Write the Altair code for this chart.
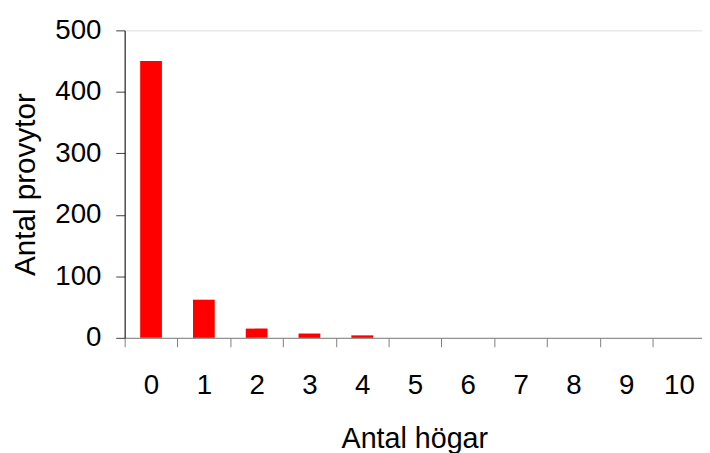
import altair as alt
import pandas as pd

hogar = [0, 1, 2, 3, 4, 5, 6, 7, 8, 9, 10]
provytor = [450, 62, 15, 7, 4, 0, 0, 0, 0, 0, 0]
y_ticks = [0, 100, 200, 300, 400, 500]
x_tick_bounds = [-0.5, 0.5, 1.5, 2.5, 3.5, 4.5, 5.5, 6.5, 7.5, 8.5, 9.5]

df = pd.DataFrame({"hogar": hogar, "provytor": provytor})

FONT = "Liberation Sans"

chart = alt.Chart(df).mark_bar(size=22, color="#ff0000").encode(
    x=alt.X(
        "hogar:Q",
        scale=alt.Scale(domain=[-0.5, 10.436], nice=False, zero=False, padding=0),
        axis=alt.Axis(
            title="Antal högar",
            values=x_tick_bounds,
            labelExpr="'' + (datum.value + 0.5)",
            labelOffset=26.7,
            labelFlush=False,
            labelOverlap=False,
            labelBaseline="alphabetic",
            labelPadding=47,
            labelFontSize=28,
            labelFont=FONT,
            labelColor="#000000",
            tickSize=9,
            tickColor="#808080",
            domainColor="#808080",
            titleFont=FONT,
            titleFontSize=29,
            titleFontWeight="normal",
            titleColor="#000000",
            titleX=293,
            titleY=111,
            titleBaseline="alphabetic",
            titleAlign="center",
            grid=False,
        ),
    ),
    y=alt.Y(
        "provytor:Q",
        scale=alt.Scale(domain=[0, 500], nice=False, padding=0),
        axis=alt.Axis(
            title="Antal provytor",
            values=y_ticks,
            labelFontSize=28,
            labelFont=FONT,
            labelColor="#000000",
            labelPadding=15,
            tickSize=9,
            tickColor="#404040",
            domainColor="#000000",
            titleFont=FONT,
            titleFontSize=30,
            titleFontWeight="normal",
            titleColor="#000000",
            titleAngle=-90,
            titleX=-91,
            titleY=155.5,
            titleBaseline="alphabetic",
            titleAlign="center",
            grid=False,
        ),
    ),
).properties(
    width=584,
    height=311,
    autosize=alt.AutoSizeParams(type="none"),
    padding={"left": 118, "top": 20, "right": 0, "bottom": 125},
).configure_view(stroke=None).configure(background="#ffffff")

chart.save("out.html", embed_options={"renderer": "svg", "actions": False})
